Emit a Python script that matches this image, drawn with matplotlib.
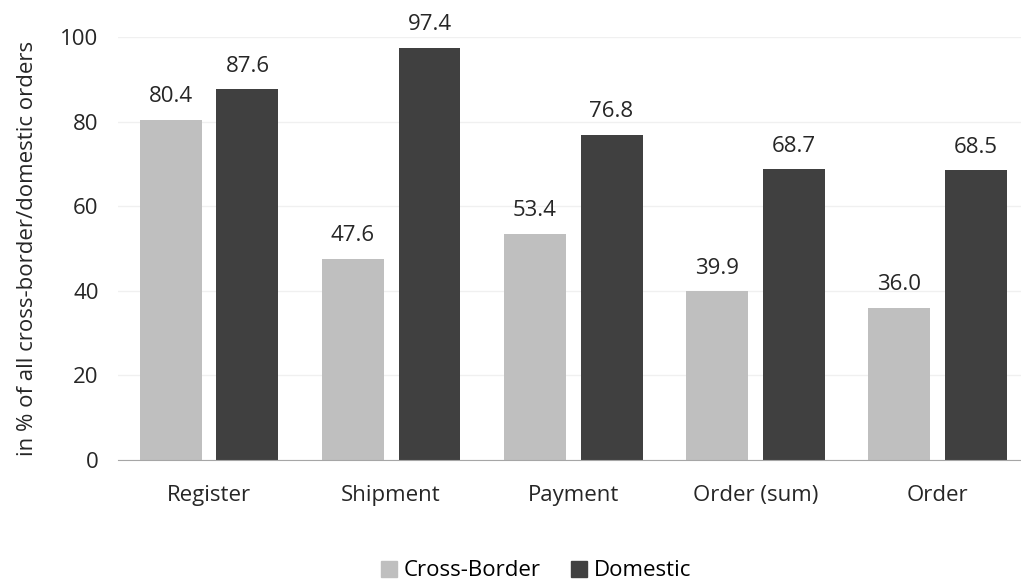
import numpy as np
import matplotlib.pyplot as plt
from matplotlib.patches import Patch

categories = ["Register", "Shipment", "Payment", "Order (sum)", "Order"]
cross_border = [80.4, 47.6, 53.4, 39.9, 36.0]
domestic = [87.6, 97.4, 76.8, 68.7, 68.5]

plt.rcParams["font.family"] = ["Open Sans", "DejaVu Sans"]
fs = 16

fig = plt.figure(figsize=(10.21, 5.84), dpi=100)
ax = fig.add_axes([118 / 1021, 1 - 460 / 584, 1 - 118 / 1021, 423 / 584])

x = np.arange(len(categories))
w = 0.34
off = 0.211
b1 = ax.bar(x - off, cross_border, w, color="#bfbfbf", zorder=2)
b2 = ax.bar(x + off, domestic, w, color="#404040", zorder=2)

# value labels above bars
for bars, vals in [(b1, cross_border), (b2, domestic)]:
    for b, v in zip(bars, vals):
        ax.text(b.get_x() + b.get_width() / 2, v + 3, f"{v:.1f}",
                ha="center", va="bottom", fontsize=fs, color="#262626")

ax.set_ylim(0, 100)
ax.set_xlim(-0.5, 4.46)
ax.set_yticks(range(0, 101, 20))
ax.set_xticks(x)
ax.set_xticklabels(categories)
ax.tick_params(axis="both", length=0, labelsize=fs, colors="#262626")
ax.tick_params(axis="x", pad=18)
ax.tick_params(axis="y", pad=14)
ax.grid(axis="y", color="#f0f0f0", linewidth=1, zorder=0)
for s in ["top", "right", "left"]:
    ax.spines[s].set_visible(False)
ax.spines["bottom"].set_color("#a6a6a6")
ax.set_ylabel("in % of all cross-border/domestic orders", fontsize=fs,
              color="#262626", labelpad=16)

handles = [Patch(color="#bfbfbf", label="Cross-Border"),
           Patch(color="#404040", label="Domestic")]
fig.legend(handles=handles, loc="center", bbox_to_anchor=(0.525, 1 - 571 / 584),
           ncol=2, frameon=False, fontsize=fs, handlelength=0.7, handleheight=0.7,
           handletextpad=0.3, columnspacing=1.4)

fig.savefig("out.png", dpi=100)
